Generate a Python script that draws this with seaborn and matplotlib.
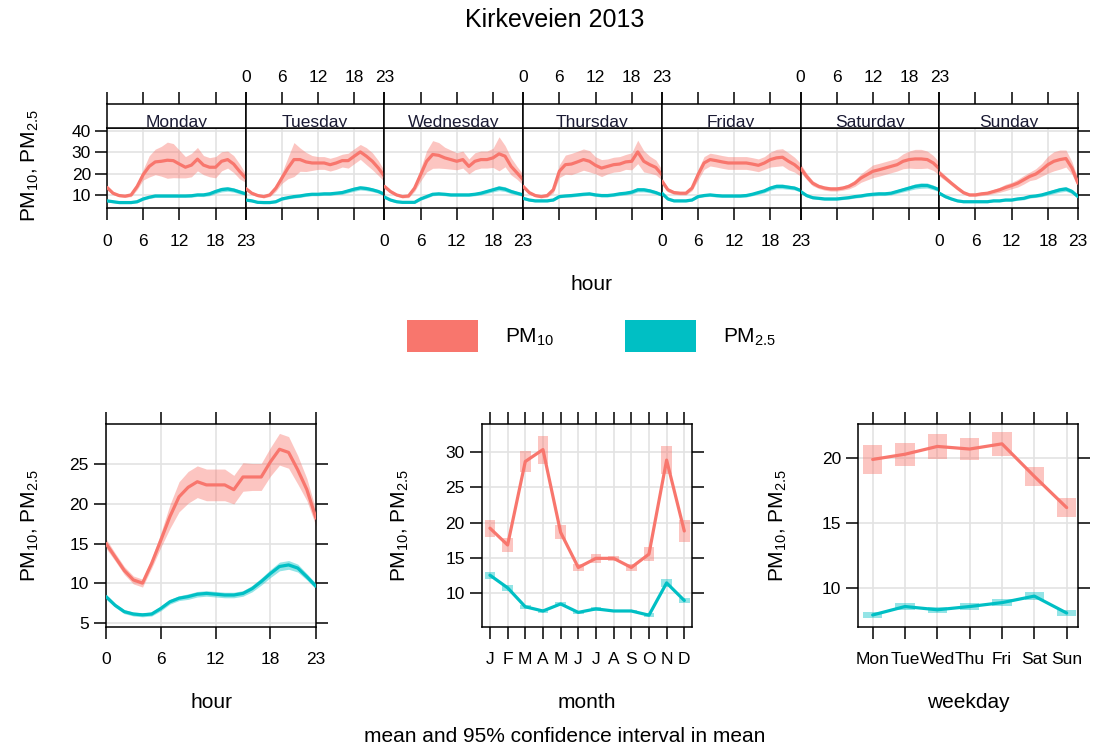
import numpy as np
import pandas as pd
import matplotlib
matplotlib.use("Agg")
import matplotlib.pyplot as plt
import seaborn as sns
from matplotlib.patches import Rectangle

# ---------------- data ----------------
days = ["Monday", "Tuesday", "Wednesday", "Thursday", "Friday", "Saturday", "Sunday"]
hours = list(range(24))
pollutants = ["PM10", "PM2.5"]

pm10_dayhour = [
    [13.5, 10.8, 9.7, 9.4, 10.0, 14.0, 19.5, 23.4, 25.5, 25.8, 26.3, 26.1, 24.5, 23.0, 24.0, 26.8, 24.0, 23.0, 23.0, 25.8, 26.6, 24.5, 21.0, 17.9],
    [13.0, 10.8, 9.7, 9.2, 10.0, 13.2, 17.9, 22.6, 26.6, 26.6, 25.5, 25.0, 25.0, 25.0, 24.2, 25.0, 26.1, 26.1, 28.2, 30.2, 28.2, 25.8, 22.6, 18.7],
    [14.0, 11.6, 10.0, 9.2, 9.5, 13.2, 19.5, 25.8, 29.0, 28.6, 27.4, 26.6, 25.8, 26.6, 23.4, 25.8, 26.6, 26.6, 27.4, 29.3, 28.2, 23.4, 20.3, 17.1],
    [14.0, 11.1, 9.7, 9.2, 9.7, 12.4, 21.1, 24.2, 24.5, 25.5, 26.6, 25.8, 23.9, 22.6, 23.4, 24.2, 24.5, 25.5, 25.8, 30.2, 25.8, 24.2, 22.9, 19.5],
    [16.5, 12.4, 11.1, 10.8, 10.8, 13.2, 19.5, 25.0, 26.6, 26.1, 25.5, 25.0, 25.0, 25.0, 25.0, 24.5, 23.9, 25.0, 26.6, 27.4, 27.7, 25.8, 24.2, 21.8],
    [22.6, 18.7, 15.5, 14.0, 13.2, 12.8, 12.8, 13.2, 14.0, 15.5, 17.9, 19.5, 21.1, 21.8, 22.6, 23.4, 24.2, 25.8, 26.6, 26.9, 26.9, 26.6, 25.0, 22.3],
    [20.3, 17.9, 15.5, 13.2, 11.1, 10.0, 10.0, 10.5, 10.8, 11.6, 12.4, 13.5, 14.4, 15.5, 17.1, 18.7, 19.8, 21.8, 24.2, 25.8, 26.6, 27.1, 22.6, 15.5],
]
pm10_dayhour_ci = [
    [1.0, 0.7, 0.6, 0.6, 0.8, 1.5, 2.5, 5.0, 6.0, 7.0, 8.5, 8.0, 6.5, 5.0, 5.5, 5.5, 4.5, 4.5, 5.0, 4.5, 4.0, 4.0, 3.5, 2.0],
    [1.0, 0.7, 0.6, 0.6, 0.8, 1.5, 2.5, 5.0, 8.0, 5.5, 4.5, 3.5, 3.0, 3.0, 3.0, 3.0, 3.0, 3.5, 3.5, 3.5, 4.0, 4.0, 3.5, 2.5],
    [1.0, 0.8, 0.6, 0.6, 0.8, 1.5, 3.0, 5.0, 6.5, 6.0, 5.0, 4.5, 4.0, 4.0, 3.5, 4.0, 4.0, 4.0, 4.5, 8.0, 5.0, 4.0, 3.0, 2.5],
    [1.0, 0.8, 0.6, 0.6, 0.8, 1.5, 3.0, 4.5, 5.0, 5.0, 5.0, 5.0, 4.0, 4.0, 3.5, 3.5, 3.5, 3.5, 4.0, 5.5, 5.0, 4.0, 3.5, 2.5],
    [1.5, 1.0, 0.8, 0.8, 0.8, 1.2, 2.5, 3.0, 3.0, 3.0, 3.0, 3.0, 3.0, 3.0, 3.0, 3.0, 3.0, 3.0, 3.5, 4.0, 4.0, 4.0, 3.5, 3.0],
    [2.0, 1.5, 1.2, 1.0, 1.0, 1.0, 1.0, 1.0, 1.2, 1.5, 2.0, 2.5, 3.0, 3.0, 3.0, 3.0, 3.0, 3.5, 4.0, 4.5, 4.5, 4.0, 3.5, 3.0],
    [1.5, 1.2, 1.0, 1.0, 0.8, 0.7, 0.7, 0.8, 0.8, 1.0, 1.2, 1.5, 1.5, 1.8, 2.0, 2.0, 2.5, 3.0, 4.0, 4.5, 4.5, 4.0, 3.0, 2.0],
]
pm25_dayhour = [
    [7.2, 6.8, 6.4, 6.4, 6.4, 6.8, 8.1, 8.9, 9.5, 9.5, 9.5, 9.5, 9.5, 9.5, 9.6, 10.0, 10.0, 10.5, 11.6, 12.5, 12.8, 12.3, 11.4, 10.5],
    [7.6, 7.2, 6.5, 6.4, 6.4, 6.8, 8.1, 8.7, 9.2, 9.5, 10.0, 10.3, 10.3, 10.5, 10.5, 10.8, 11.1, 11.9, 12.7, 13.3, 13.0, 12.4, 11.6, 10.3],
    [9.0, 7.6, 6.8, 6.5, 6.5, 6.5, 8.1, 9.2, 10.3, 10.5, 10.3, 10.0, 10.0, 10.0, 10.0, 10.3, 10.8, 11.6, 12.4, 13.2, 12.7, 11.6, 10.8, 10.0],
    [8.4, 7.6, 7.2, 7.2, 7.2, 7.6, 9.2, 9.5, 9.7, 10.0, 10.3, 10.5, 10.0, 9.7, 9.7, 10.0, 10.5, 10.8, 11.3, 12.4, 12.4, 11.9, 11.1, 10.0],
    [10.8, 8.1, 7.2, 7.2, 7.2, 7.6, 9.2, 9.7, 10.0, 9.7, 9.5, 9.5, 9.5, 9.5, 9.7, 10.3, 11.1, 11.9, 13.2, 14.0, 14.0, 13.6, 13.2, 12.1],
    [11.6, 9.7, 8.7, 8.4, 8.1, 8.1, 8.1, 8.4, 8.7, 9.2, 9.5, 10.0, 10.3, 10.5, 10.5, 10.8, 11.6, 12.4, 13.2, 14.0, 14.4, 14.4, 13.5, 12.4],
    [10.8, 9.2, 8.1, 7.2, 6.8, 6.8, 6.8, 6.8, 6.8, 7.2, 7.2, 7.6, 7.6, 8.1, 8.4, 9.2, 9.5, 10.0, 10.8, 11.6, 12.4, 12.8, 11.6, 9.2],
]
pm25_dayhour_ci = [
    [0.6, 0.5, 0.5, 0.5, 0.5, 0.5, 0.6, 0.6, 0.7, 0.7, 0.7, 0.7, 0.7, 0.7, 0.7, 0.7, 0.8, 0.9, 1.0, 1.1, 1.1, 1.0, 0.9, 0.7],
    [0.6, 0.5, 0.5, 0.5, 0.5, 0.5, 0.6, 0.6, 0.7, 0.7, 0.7, 0.7, 0.7, 0.7, 0.7, 0.7, 0.8, 0.9, 1.0, 1.0, 1.0, 0.9, 0.8, 0.7],
    [0.6, 0.5, 0.5, 0.5, 0.5, 0.5, 0.6, 0.7, 0.7, 0.7, 0.7, 0.7, 0.7, 0.7, 0.7, 0.7, 0.8, 0.9, 1.0, 1.2, 1.1, 1.0, 0.8, 0.7],
    [0.6, 0.5, 0.5, 0.5, 0.5, 0.5, 0.6, 0.6, 0.7, 0.7, 0.7, 0.7, 0.7, 0.7, 0.7, 0.7, 0.8, 0.8, 0.9, 1.0, 1.0, 0.9, 0.8, 0.7],
    [0.7, 0.6, 0.5, 0.5, 0.5, 0.5, 0.6, 0.6, 0.7, 0.7, 0.7, 0.7, 0.7, 0.7, 0.7, 0.7, 0.8, 0.9, 1.0, 1.1, 1.1, 1.0, 0.9, 0.8],
    [0.8, 0.7, 0.6, 0.6, 0.6, 0.6, 0.6, 0.6, 0.6, 0.7, 0.7, 0.7, 0.8, 0.8, 0.8, 0.8, 0.9, 1.0, 1.1, 1.2, 1.3, 1.2, 1.1, 0.9],
    [0.8, 0.7, 0.6, 0.5, 0.5, 0.5, 0.5, 0.5, 0.5, 0.5, 0.5, 0.6, 0.6, 0.6, 0.7, 0.7, 0.7, 0.8, 0.9, 1.0, 1.1, 1.1, 1.0, 0.8],
]

pm10_hour = [15.0, 13.3, 11.6, 10.4, 10.0, 12.5, 15.4, 18.4, 20.9, 22.1, 22.8, 22.4, 22.4, 22.4, 21.8, 23.4, 23.4, 23.4, 25.3, 26.9, 26.5, 24.3, 21.8, 18.2]
pm10_hour_ci = [0.6, 0.5, 0.5, 0.5, 0.5, 0.6, 0.9, 1.5, 1.9, 2.0, 2.0, 2.0, 2.0, 2.0, 1.8, 1.8, 1.7, 1.7, 1.8, 2.0, 2.0, 1.8, 1.4, 1.0]
pm25_hour = [8.3, 7.2, 6.4, 6.1, 6.0, 6.1, 6.8, 7.65, 8.1, 8.3, 8.6, 8.7, 8.6, 8.5, 8.5, 8.7, 9.3, 10.2, 11.2, 12.1, 12.3, 11.9, 10.8, 9.6]
pm25_hour_ci = [0.3, 0.25, 0.25, 0.25, 0.25, 0.25, 0.3, 0.3, 0.3, 0.35, 0.35, 0.35, 0.35, 0.35, 0.35, 0.35, 0.4, 0.45, 0.5, 0.55, 0.55, 0.5, 0.4, 0.35]

months = list(range(1, 13))
month_labels = ["J", "F", "M", "A", "M", "J", "J", "A", "S", "O", "N", "D"]
pm10_month = [19.2, 16.8, 28.7, 30.4, 18.6, 13.6, 14.9, 14.9, 13.6, 15.5, 28.9, 18.8]
pm10_month_ci = [1.2, 1.0, 1.5, 2.0, 1.0, 0.5, 0.6, 0.4, 0.5, 1.0, 2.0, 1.5]
pm25_month = [12.5, 10.7, 8.0, 7.4, 8.4, 7.2, 7.7, 7.4, 7.4, 6.8, 11.4, 8.9]
pm25_month_ci = [0.5, 0.4, 0.3, 0.3, 0.3, 0.2, 0.3, 0.2, 0.2, 0.3, 0.6, 0.4]

weekdays = list(range(1, 8))
weekday_labels = ["Mon", "Tue", "Wed", "Thu", "Fri", "Sat", "Sun"]
pm10_weekday = [19.9, 20.3, 20.9, 20.7, 21.1, 18.6, 16.2]
pm10_weekday_ci = [1.1, 0.9, 0.95, 0.85, 0.9, 0.75, 0.7]
pm25_weekday = [7.95, 8.6, 8.35, 8.6, 8.9, 9.4, 8.1]
pm25_weekday_ci = [0.2, 0.25, 0.25, 0.25, 0.25, 0.3, 0.2]

colors = {"PM10": "#F8766D", "PM2.5": "#00BFC4"}

# ---------------- style ----------------
sns.set_theme(style="white")
plt.rcParams["font.family"] = ["Liberation Sans", "DejaVu Sans"]
plt.rcParams["mathtext.default"] = "regular"
plt.rcParams["text.color"] = "black"
plt.rcParams["xtick.labelcolor"] = "black"
plt.rcParams["ytick.labelcolor"] = "black"

W, H = 1093, 751
fig = plt.figure(figsize=(W / 100, H / 100), dpi=100)

TICK_FS = 12.5
LAB_FS = 15
GRID_C = "#E3E3E3"
TL = 8.5


def px_axes(x0, y0, x1, y1):
    return fig.add_axes([x0 / W, 1 - y1 / H, (x1 - x0) / W, (y1 - y0) / H])


def frame(ax):
    for s in ax.spines.values():
        s.set_visible(True)
        s.set_color("black")
        s.set_linewidth(1.1)


def long_df(x, series):
    rows = []
    for name, vals in series.items():
        for xi, v in zip(x, vals):
            rows.append({"x": xi, "value": v, "pollutant": name})
    return pd.DataFrame(rows)


# ---------------- top: day x hour panels ----------------
left, right = 107.0, 1078.0
pw = (right - left) / 7
for i, day in enumerate(days):
    x0 = left + i * pw
    x1 = x0 + pw
    ax = px_axes(x0, 128.3, x1, 208.3)
    sax = px_axes(x0, 104.0, x1, 128.3)

    m10 = np.array(pm10_dayhour[i]); c10 = np.array(pm10_dayhour_ci[i])
    m25 = np.array(pm25_dayhour[i]); c25 = np.array(pm25_dayhour_ci[i])
    ax.fill_between(hours, m10 - c10, m10 + c10, color=colors["PM10"], alpha=0.42, lw=0, zorder=2)
    ax.fill_between(hours, m25 - c25, m25 + c25, color=colors["PM2.5"], alpha=0.42, lw=0, zorder=2)
    df = long_df(hours, {"PM10": m10, "PM2.5": m25})
    sns.lineplot(data=df, x="x", y="value", hue="pollutant", palette=colors,
                 ax=ax, legend=False, errorbar=None, lw=2.3, zorder=3)

    ax.set_xlim(0, 23)
    ax.set_ylim(3.7, 41.3)
    ax.set_xticks([0, 6, 12, 18, 23])
    ax.set_yticks([10, 20, 30, 40])
    ax.set_xlabel("")
    ax.set_ylabel("")
    ax.grid(True, color=GRID_C, lw=1.2)
    ax.set_axisbelow(True)
    frame(ax)
    ax.tick_params(axis="x", direction="out", length=TL, width=1.1, color="black",
                   bottom=True, top=False, labelbottom=(i % 2 == 0),
                   labelsize=TICK_FS, pad=10)
    ax.tick_params(axis="y", direction="out", length=TL, width=1.1, color="black",
                   left=(i == 0), right=(i == 6), labelleft=(i == 0), labelright=False,
                   labelsize=TICK_FS, pad=3)

    sax.set_xlim(0, 23)
    sax.set_ylim(0, 1)
    sax.set_facecolor("white")
    sax.set_xticks([0, 6, 12, 18, 23])
    sax.set_yticks([])
    sax.xaxis.tick_top()
    sax.tick_params(axis="x", direction="out", length=TL, width=1.1, color="black",
                    top=True, bottom=False, labeltop=(i % 2 == 1), labelbottom=False,
                    labelsize=TICK_FS, pad=5)
    frame(sax)
    sax.text(0.5, 0.06, day, transform=sax.transAxes, ha="center", va="baseline",
             fontsize=12.5, color="#1a1a33", clip_on=True)

fig.text(30 / W, 1 - 165 / H, r"PM$_{10}$, PM$_{2.5}$", rotation=90,
         ha="center", va="center", fontsize=LAB_FS)
fig.text(592 / W, 1 - 284 / H, "hour", ha="center", va="center", fontsize=LAB_FS)

# ---------------- legend ----------------
for (rx0, tx), name, lab in [((407, 505), "PM10", r"PM$_{10}$"), ((625, 723), "PM2.5", r"PM$_{2.5}$")]:
    fig.patches.append(Rectangle((rx0 / W, 1 - 352 / H), 71 / W, 32 / H,
                                 transform=fig.transFigure, facecolor=colors[name],
                                 edgecolor="none"))
    fig.text(tx / W, 1 - 337 / H, lab, ha="left", va="center", fontsize=LAB_FS)


# ---------------- bottom panels ----------------
def style_bottom(ax, xlim, ylim, xticks, yticks, xticklabels=None):
    ax.set_xlim(*xlim)
    ax.set_ylim(*ylim)
    ax.set_xticks(xticks)
    if xticklabels is not None:
        ax.set_xticklabels(xticklabels)
    ax.set_yticks(yticks)
    ax.set_xlabel("")
    ax.set_ylabel("")
    ax.grid(True, color=GRID_C, lw=1.2)
    ax.set_axisbelow(True)
    frame(ax)
    ax.tick_params(axis="both", direction="out", length=TL, width=1.1, color="black",
                   bottom=True, top=True, left=True, right=True,
                   labelbottom=True, labeltop=False, labelleft=True, labelright=False,
                   labelsize=TICK_FS)
    ax.tick_params(axis="x", pad=10)
    ax.tick_params(axis="y", pad=4)


# hour
ax_h = px_axes(106, 424.3, 316, 626.7)
m10 = np.array(pm10_hour); c10 = np.array(pm10_hour_ci)
m25 = np.array(pm25_hour); c25 = np.array(pm25_hour_ci)
ax_h.fill_between(hours, m10 - c10, m10 + c10, color=colors["PM10"], alpha=0.42, lw=0, zorder=2)
ax_h.fill_between(hours, m25 - c25, m25 + c25, color=colors["PM2.5"], alpha=0.42, lw=0, zorder=2)
sns.lineplot(data=long_df(hours, {"PM10": m10, "PM2.5": m25}), x="x", y="value",
             hue="pollutant", palette=colors, ax=ax_h, legend=False, errorbar=None, lw=2.3, zorder=3)
style_bottom(ax_h, (0, 23), (4.5, 30.05), [0, 6, 12, 18, 23], [5, 10, 15, 20, 25])


def factor_panel(ax, x, m10, c10, m25, c25):
    for mean, ci, name in [(m10, c10, "PM10"), (m25, c25, "PM2.5")]:
        mean = np.array(mean); ci = np.array(ci)
        ax.bar(x, 2 * ci, bottom=mean - ci, width=0.6, color=colors[name],
               alpha=0.42, lw=0, zorder=2)
    sns.lineplot(data=long_df(x, {"PM10": m10, "PM2.5": m25}), x="x", y="value",
                 hue="pollutant", palette=colors, ax=ax, legend=False, errorbar=None,
                 lw=2.3, zorder=3)


ax_m = px_axes(482, 424.3, 691.7, 626.7)
factor_panel(ax_m, months, pm10_month, pm10_month_ci, pm25_month, pm25_month_ci)
style_bottom(ax_m, (0.55, 12.42), (5.16, 34.0), months, [10, 15, 20, 25, 30], month_labels)

ax_w = px_axes(858.3, 424.3, 1078.3, 626.7)
factor_panel(ax_w, weekdays, pm10_weekday, pm10_weekday_ci, pm25_weekday, pm25_weekday_ci)
style_bottom(ax_w, (0.555, 7.36), (7.05, 22.6), weekdays, [10, 15, 20], weekday_labels)

for xc in (30, 400, 778):
    fig.text(xc / W, 1 - 525 / H, r"PM$_{10}$, PM$_{2.5}$", rotation=90,
             ha="center", va="center", fontsize=LAB_FS)
for xc, lab in [(211, "hour"), (587, "month"), (968, "weekday")]:
    fig.text(xc / W, 1 - 703 / H, lab, ha="center", va="center", fontsize=LAB_FS)

fig.text(565 / W, 1 - 737 / H, "mean and 95% confidence interval in mean",
         ha="center", va="center", fontsize=LAB_FS)
fig.text(555 / W, 1 - 20 / H, "Kirkeveien 2013", ha="center", va="center", fontsize=18)

fig.savefig("out.png", dpi=100)
